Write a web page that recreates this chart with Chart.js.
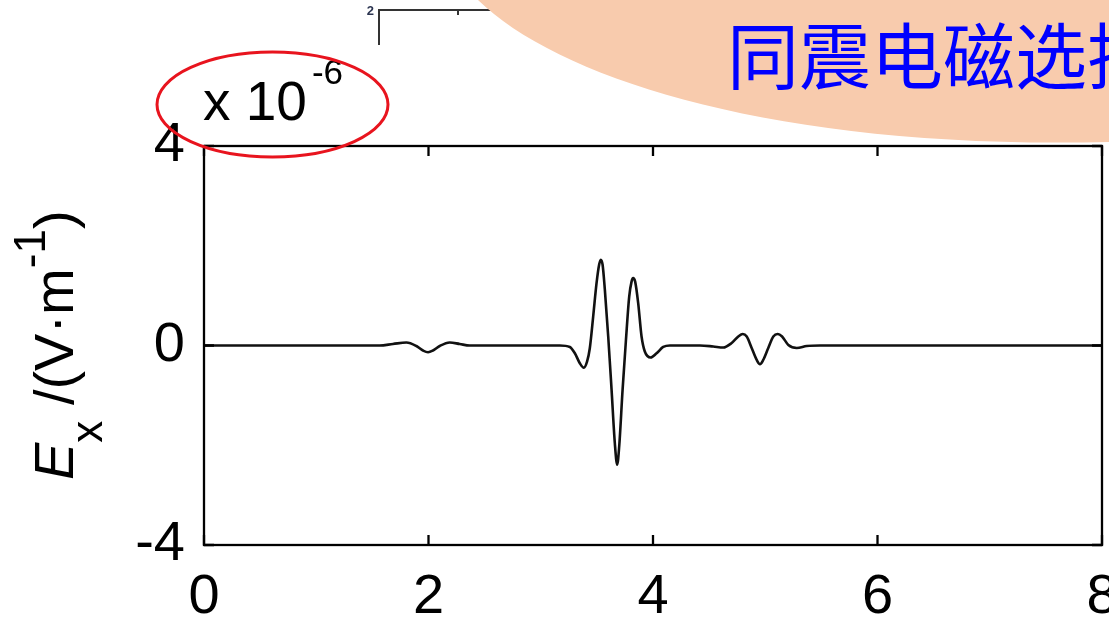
<!DOCTYPE html>
<html>
<head>
<meta charset="utf-8">
<script src="https://cdn.jsdelivr.net/npm/chart.js@4.4.1/dist/chart.umd.min.js"></script>
<style>
  html, body { margin: 0; padding: 0; background: #ffffff; overflow: hidden; }
  #wrap { position: relative; width: 1109px; height: 617px; }
  canvas { display: block; }
</style>
</head>
<body>
<div id="wrap"><canvas id="c" width="1109" height="617"></canvas></div>
<script>
// Time axis (s) and horizontal electric field Ex (x 1e-6 V/m)
const timeSec = [
  0, 1.565, 1.683, 1.803, 1.892, 1.951, 1.996, 2.040, 2.100, 2.189, 2.278, 2.367,
  3.170, 3.259, 3.304, 3.348, 3.384, 3.413, 3.437, 3.467, 3.497, 3.520, 3.535, 3.551,
  3.571, 3.601, 3.631, 3.660, 3.681, 3.699, 3.729, 3.759, 3.788, 3.809, 3.823, 3.841,
  3.868, 3.898, 3.927, 3.979, 4.032, 4.091, 4.151,
  4.418, 4.537, 4.626, 4.701, 4.760, 4.799, 4.835, 4.879, 4.924, 4.953, 4.982, 5.027,
  5.072, 5.111, 5.150, 5.206, 5.281, 5.370, 5.488, 8
];
const exField = [
  0, 0, 0.03, 0.06, -0.01, -0.10, -0.135, -0.10, -0.01, 0.06, 0.03, 0,
  0, -0.03, -0.155, -0.355, -0.445, -0.32, -0.055, 0.58, 1.25, 1.62, 1.72, 1.62,
  1.12, 0.18, -0.89, -1.96, -2.39, -2.02, -0.89, 0.11, 0.98, 1.28, 1.35, 1.28,
  0.85, 0.18, -0.12, -0.24, -0.155, -0.03, 0,
  0, -0.02, -0.04, 0.05, 0.18, 0.23, 0.18, -0.05, -0.29, -0.375, -0.29, -0.05,
  0.18, 0.23, 0.18, 0.01, -0.05, -0.01, 0, 0
];
const xTickValues = [0, 2, 4, 6, 8];
const yTickValues = [-4, 0, 4];
const slideTitle = '同震电磁选择';
const multiplierBase = 'x 10';
const multiplierExp = '-6';

const SANS = '"Liberation Sans", Arial, sans-serif';

// Rotated y-axis title: E_x /(V·m^-1)
const yTitlePlugin = {
  id: 'yTitle',
  afterDraw(chart) {
    const ctx = chart.ctx;
    const parts = [
      { t: 'E', font: 'italic 56px ' + SANS, dy: 0 },
      { t: 'x', font: '44px ' + SANS, dy: 29 },
      { t: ' /(V\u00B7m', font: '56px ' + SANS, dy: 0 },
      { t: '-1', font: '44px ' + SANS, dy: -28 },
      { t: ')', font: '56px ' + SANS, dy: 0 }
    ];
    ctx.save();
    ctx.translate(73, 480);
    ctx.rotate(-Math.PI / 2);
    ctx.fillStyle = '#000';
    ctx.textBaseline = 'alphabetic';
    ctx.textAlign = 'left';
    let x = 0;
    for (const p of parts) {
      ctx.font = p.font;
      ctx.fillText(p.t, x, p.dy);
      x += ctx.measureText(p.t).width;
    }
    ctx.restore();
  }
};

// Plot frame with inward tick marks on all four sides
const framePlugin = {
  id: 'frame',
  afterDatasetsDraw(chart) {
    const { ctx, chartArea: a, scales } = chart;
    ctx.save();
    ctx.strokeStyle = '#000';
    ctx.lineWidth = 2.3;
    ctx.strokeRect(a.left, a.top, a.right - a.left, a.bottom - a.top);
    const len = 10;
    ctx.beginPath();
    for (const v of xTickValues) {
      const px = scales.x.getPixelForValue(v);
      ctx.moveTo(px, a.bottom); ctx.lineTo(px, a.bottom - len);
      ctx.moveTo(px, a.top); ctx.lineTo(px, a.top + len);
    }
    for (const v of yTickValues) {
      const py = scales.y.getPixelForValue(v);
      ctx.moveTo(a.left, py); ctx.lineTo(a.left + len, py);
      ctx.moveTo(a.right, py); ctx.lineTo(a.right - len, py);
    }
    ctx.stroke();
    ctx.restore();
  }
};

// Slide decorations: neighbouring panel corner, title banner, highlighted multiplier
const slidePlugin = {
  id: 'slide',
  afterDraw(chart) {
    const ctx = chart.ctx;
    ctx.save();
    // corner of the neighbouring panel
    ctx.strokeStyle = '#333';
    ctx.lineWidth = 2;
    ctx.beginPath();
    ctx.moveTo(379, 45); ctx.lineTo(379, 10); ctx.lineTo(600, 10);
    ctx.moveTo(458, 10); ctx.lineTo(458, 15);
    ctx.stroke();
    ctx.fillStyle = '#2b3450';
    ctx.font = 'bold 13px ' + SANS;
    ctx.textAlign = 'right';
    ctx.textBaseline = 'middle';
    ctx.fillText('2', 374, 11);

    // peach banner
    ctx.fillStyle = '#F8CBAD';
    ctx.beginPath();
    ctx.moveTo(478, 0);
    ctx.bezierCurveTo(560, 80, 780, 150, 1109, 142);
    ctx.lineTo(1120, 142);
    ctx.lineTo(1120, 0);
    ctx.closePath();
    ctx.fill();

    ctx.fillStyle = '#0000FF';
    ctx.font = '72px "Noto Sans CJK SC", sans-serif';
    ctx.textAlign = 'left';
    ctx.textBaseline = 'middle';
    ctx.fillText(slideTitle, 727, 56);

    // multiplier label
    ctx.fillStyle = '#000';
    ctx.textBaseline = 'alphabetic';
    ctx.font = '55px ' + SANS;
    ctx.fillText(multiplierBase, 203, 120);
    const baseW = ctx.measureText(multiplierBase).width;
    ctx.font = '35px ' + SANS;
    ctx.fillText(multiplierExp, 203 + baseW + 5, 84);

    ctx.strokeStyle = 'rgb(232,20,30)';
    ctx.lineWidth = 3;
    ctx.beginPath();
    ctx.ellipse(272.5, 104.5, 115.5, 52.5, 0, 0, Math.PI * 2);
    ctx.stroke();
    ctx.restore();
  }
};

const points = timeSec.map((t, i) => ({ x: t, y: exField[i] }));

new Chart(document.getElementById('c'), {
  type: 'line',
  data: {
    datasets: [{
      data: points,
      borderColor: '#111',
      borderWidth: 2.6,
      pointRadius: 0,
      fill: false,
      cubicInterpolationMode: 'monotone'
    }]
  },
  options: {
    responsive: false,
    animation: false,
    devicePixelRatio: 1,
    layout: { autoPadding: false, padding: { top: 146, right: 7, bottom: 0, left: 0 } },
    plugins: { legend: { display: false }, tooltip: { enabled: false } },
    scales: {
      x: {
        type: 'linear',
        min: 0, max: 8,
        afterBuildTicks(scale) { scale.ticks = xTickValues.map(v => ({ value: v })); },
        afterFit(scale) {
          scale.height = 72;
          scale.paddingLeft = 0;
          scale.paddingRight = 0;
        },
        grid: { display: false, drawTicks: false },
        border: { display: false },
        ticks: {
          color: '#000',
          font: { family: SANS, size: 56 },
          padding: 19,
          maxRotation: 0,
          autoSkip: false,
          callback: v => String(v)
        }
      },
      y: {
        type: 'linear',
        min: -4, max: 4,
        afterBuildTicks(scale) { scale.ticks = yTickValues.map(v => ({ value: v })); },
        afterFit(scale) {
          scale.width = 204;
          scale.paddingTop = 0;
          scale.paddingBottom = 0;
        },
        grid: { display: false, drawTicks: false },
        border: { display: false },
        ticks: {
          color: '#000',
          font: { family: SANS, size: 56 },
          padding: 19,
          autoSkip: false,
          callback: v => String(v)
        }
      }
    }
  },
  plugins: [framePlugin, yTitlePlugin, slidePlugin]
});
</script>
</body>
</html>
